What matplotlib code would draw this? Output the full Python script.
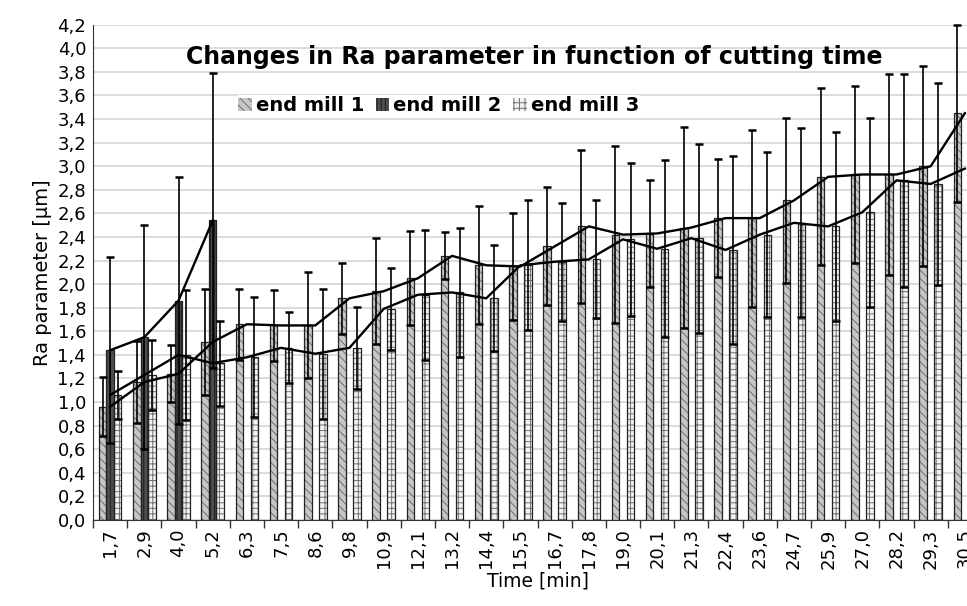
import matplotlib.pyplot as plt
import numpy as np
from matplotlib.patches import Patch

# Data
times = ["1,7", "2,9", "4,0", "5,2", "6,3", "7,5", "8,6", "9,8", "10,9", "12,1",
         "13,2", "14,4", "15,5", "16,7", "17,8", "19,0", "20,1", "21,3", "22,4",
         "23,6", "24,7", "25,9", "27,0", "28,2", "29,3", "30,5"]
mill1 = [0.96, 1.17, 1.24, 1.51, 1.66, 1.65, 1.65, 1.88, 1.94, 2.05, 2.24, 2.16, 2.15,
         2.32, 2.49, 2.42, 2.43, 2.48, 2.56, 2.56, 2.71, 2.91, 2.93, 2.93, 3.00, 3.45]
mill1_err = [0.25, 0.35, 0.24, 0.45, 0.30, 0.30, 0.45, 0.30, 0.45, 0.40, 0.20, 0.50, 0.45,
             0.50, 0.65, 0.75, 0.45, 0.85, 0.50, 0.75, 0.70, 0.75, 0.75, 0.85, 0.85, 0.75]
mill2 = [1.44, 1.55, 1.86, 2.54]
mill2_err = [0.79, 0.95, 1.05, 1.25]
mill3 = [1.06, 1.23, 1.40, 1.33, 1.38, 1.46, 1.41, 1.46, 1.79, 1.91, 1.93, 1.88, 2.16,
         2.19, 2.21, 2.38, 2.30, 2.39, 2.29, 2.42, 2.52, 2.49, 2.61, 2.88, 2.85, 2.98]
mill3_err = [0.20, 0.30, 0.55, 0.36, 0.51, 0.30, 0.55, 0.35, 0.35, 0.55, 0.55, 0.45, 0.55,
             0.50, 0.50, 0.65, 0.75, 0.80, 0.80, 0.70, 0.80, 0.80, 0.80, 0.90, 0.86, 0.94]

plt.rcParams['hatch.linewidth'] = 0.7

fig = plt.figure(figsize=(9.67, 6.06), dpi=100)
# plot area runs a bit past the right edge, like the cropped original
ax = fig.add_axes([0.0962, 0.1419, 0.9193, 0.8173])

x = np.arange(len(times))
w = 0.22

series = [
    (x - w, mill1, mill1_err, '#c6c6c6', '\\\\\\\\', '#6e6e6e', 'end mill 1'),
    (x[:len(mill2)], mill2, mill2_err, '#4d4d4d', '||||', '#1e1e1e', 'end mill 2'),
    (x + w, mill3, mill3_err, '#f2f2f2', '+++', '#707070', 'end mill 3'),
]

handles = []
for pos, vals, err, face, hatch, hcol, name in series:
    # hatched fill, then a dark outline on top
    ax.bar(pos, vals, w, color=face, hatch=hatch, edgecolor=hcol, linewidth=0, zorder=2)
    ax.bar(pos, vals, w, fill=False, edgecolor='#222222', linewidth=0.9, zorder=2.5)
    ax.errorbar(pos, vals, yerr=err, fmt='none', ecolor='black', elinewidth=1.2,
                capsize=3, capthick=1.8, zorder=4, clip_on=False)
    handles.append(Patch(facecolor=face, hatch=hatch, edgecolor=hcol, linewidth=0))

# trend lines through the means
ax.plot(x, mill1, color='black', lw=1.7, zorder=5)
ax.plot(x[:len(mill2)], mill2, color='black', lw=1.7, zorder=5)
ax.plot(x, mill3, color='black', lw=1.7, zorder=5)

ax.set_xlim(-0.5, len(times) - 0.5)
ax.set_ylim(0, 4.2)

ax.set_xticks(x)
ax.set_xticklabels(times, rotation=90, fontsize=13)
ax.set_xticks(np.arange(-0.5, len(times), 1), minor=True)
ax.tick_params(axis='x', which='major', length=0, pad=6)
ax.tick_params(axis='x', which='minor', length=6, width=1, color='#333333', direction='out')

yt = np.arange(0, 4.21, 0.2)
ax.set_yticks(yt)
ax.set_yticklabels([f"{v:.1f}".replace('.', ',') for v in yt], fontsize=13)
ax.tick_params(axis='y', length=0, pad=5)

ax.yaxis.grid(True, color='#d9d9d9', lw=1.3)
ax.set_axisbelow(True)
for s in ['top', 'right']:
    ax.spines[s].set_visible(False)
ax.spines['left'].set_color('#333333')
ax.spines['bottom'].set_color('#333333')

ax.set_ylabel('Ra parameter [µm]', fontsize=14, labelpad=4)
ax.set_xlabel('Time [min]', fontsize=13.5, labelpad=2)

ax.text(0.496, 0.935, 'Changes in Ra parameter in function of cutting time',
        transform=ax.transAxes, ha='center', va='center', fontsize=17, fontweight='bold')

ax.legend(handles, [s[6] for s in series], loc='center left', bbox_to_anchor=(0.15, 0.836),
          ncol=3, frameon=True, facecolor='white', edgecolor='none', framealpha=1,
          prop=dict(weight='bold', size=14), handlelength=0.7, handleheight=0.7,
          handletextpad=0.2, columnspacing=0.6, borderpad=0.1)

fig.savefig('out.png', dpi=100)
